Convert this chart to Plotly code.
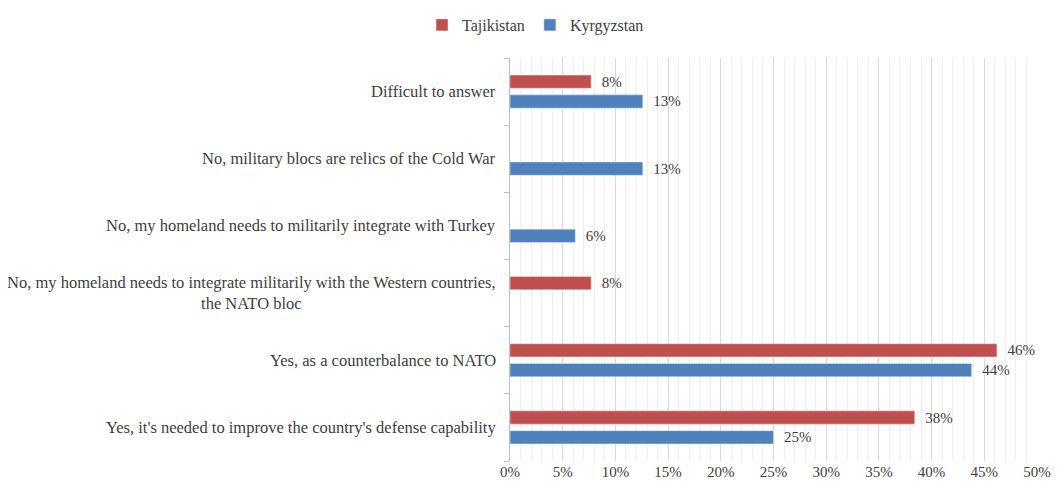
import plotly.graph_objects as go

categories = [
    "Yes, it's needed to improve the country's defense capability",
    "Yes, as a counterbalance to NATO",
    "No, my homeland needs to integrate militarily with the Western countries,<br>the NATO bloc",
    "No, my homeland needs to militarily integrate with Turkey",
    "No, military blocs are relics of the Cold War",
    "Difficult to answer",
]
tajikistan = [38.4, 46.2, 7.7, None, None, 7.7]
kyrgyzstan = [25.0, 43.8, None, 6.2, 12.6, 12.6]
x_ticks = list(range(0, 51, 5))
x_tick_labels = [f"{v}%" for v in x_ticks]

RED = "#C0504D"
BLUE = "#4F81BD"
TXT = "#404040"
FONT = "Liberation Serif"

fig = go.Figure()
fig.add_trace(go.Bar(
    y=categories, x=kyrgyzstan, name="Kyrgyzstan", orientation="h",
    marker_color=BLUE, legendrank=2,
    texttemplate="\u00a0\u00a0%{x:.0f}%", textposition="outside",
    constraintext="none",
    textfont=dict(family=FONT, size=15, color=TXT), cliponaxis=False,
))
fig.add_trace(go.Bar(
    y=categories, x=tajikistan, name="Tajikistan", orientation="h",
    marker_color=RED, legendrank=1,
    texttemplate="\u00a0\u00a0%{x:.0f}%", textposition="outside",
    constraintext="none",
    textfont=dict(family=FONT, size=15, color=TXT), cliponaxis=False,
))

for c in categories:
    fig.add_annotation(
        x=0, xref="paper", y=c, yref="y", text=c, showarrow=False,
        xanchor="right", align="center", xshift=-12,
        font=dict(family=FONT, size=16.5, color=TXT),
    )

fig.update_layout(
    width=1055, height=484,
    margin=dict(l=502, r=19, t=50, b=29),
    paper_bgcolor="white", plot_bgcolor="white",
    barmode="group", bargap=0.41, bargroupgap=0.33,
    font=dict(family=FONT, size=14, color=TXT),
    showlegend=True,
    legend=dict(orientation="h", x=0.5, xref="container", xanchor="center",
                y=1.0, yref="container", yanchor="top",
                font=dict(family=FONT, size=16, color=TXT),
                itemwidth=30, traceorder="normal"),
)
fig.update_xaxes(
    range=[0, 50], tickvals=x_ticks, ticktext=x_tick_labels,
    showgrid=True, gridcolor="#D9D9D9", gridwidth=1,
    minor=dict(dtick=1, showgrid=True, gridcolor="#EFEFEF", gridwidth=1),
    zeroline=False, showline=False, ticks="",
    tickfont=dict(family=FONT, size=15, color=TXT),
    fixedrange=True,
)
fig.update_yaxes(
    categoryorder="array", categoryarray=categories,
    showticklabels=False, showgrid=False, zeroline=False,
    showline=True, linecolor="#BFBFBF", linewidth=1,
    ticks="outside", tickson="boundaries", ticklen=5, tickcolor="#BFBFBF",
    fixedrange=True,
)

fig.write_html("out.html")
